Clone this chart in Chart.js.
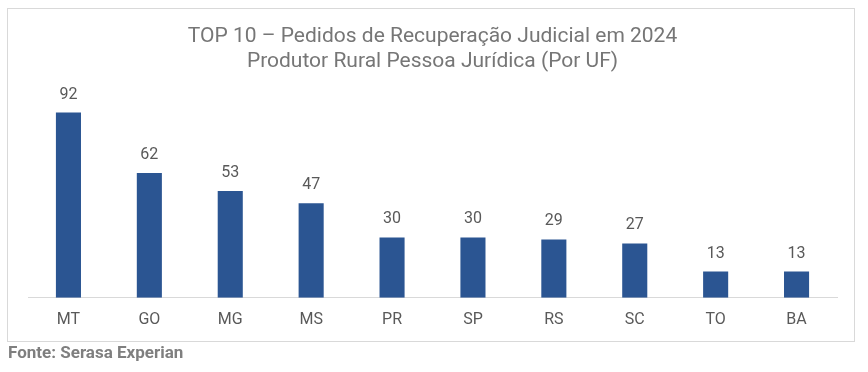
<!DOCTYPE html>
<html>
<head>
<meta charset="utf-8">
<script src="https://cdn.jsdelivr.net/npm/chart.js@4"></script>
<style>
  body { margin: 0; background: #fff; font-family: Roboto, sans-serif; }
  #frame { position: absolute; left: 7px; top: 8px; width: 846px; height: 332px; border: 1px solid #d9d9d9; }
  #wrap { position: absolute; left: 8px; top: 9px; width: 846px; height: 334px; }
  #fonte { position: absolute; left: 8px; top: 342px; font: bold 17px Roboto, sans-serif; color: #7f7f7f; }
</style>
</head>
<body>
<div id="frame"></div>
<div id="wrap"><canvas id="ufChart"></canvas></div>
<div id="fonte">Fonte: Serasa Experian</div>
<script>
// ── Data ─────────────────────────────────────────────────────────────────────
const titleLines = ['TOP 10 – Pedidos de Recuperação Judicial em 2024', 'Produtor Rural Pessoa Jurídica (Por UF)'];
const ufs = ['MT', 'GO', 'MG', 'MS', 'PR', 'SP', 'RS', 'SC', 'TO', 'BA'];
const pedidos = [92, 62, 53, 47, 30, 30, 29, 27, 13, 13];

// value labels above each bar
const barLabels = {
    id: 'barLabels',
    afterDatasetsDraw(chart) {
        const ctx = chart.ctx;
        const meta = chart.getDatasetMeta(0);
        ctx.save();
        ctx.font = '16px Roboto, sans-serif';
        ctx.fillStyle = '#595959';
        ctx.textAlign = 'center';
        ctx.textBaseline = 'middle';
        meta.data.forEach((bar, i) => {
            ctx.fillText(pedidos[i], bar.x, bar.y - 18);
        });
        ctx.restore();
    }
};

new Chart(document.getElementById('ufChart'), {
    type: 'bar',
    data: {
        labels: ufs,
        datasets: [{
            data: pedidos,
            backgroundColor: '#2b5592',
            categoryPercentage: 1,
            barPercentage: 0.31
        }]
    },
    options: {
        responsive: true,
        maintainAspectRatio: false,
        animation: false,
        layout: { padding: { left: 20, right: 17, top: 0, bottom: 0 } },
        plugins: {
            legend: { display: false },
            tooltip: { enabled: false },
            title: {
                display: true,
                text: titleLines,
                color: '#767676',
                font: { family: 'Roboto', size: 21, weight: 'normal', lineHeight: 1.2 },
                padding: { top: 15, bottom: 22 }
            }
        },
        scales: {
            x: {
                grid: { display: false, drawTicks: false },
                border: { display: true, color: '#d9d9d9' },
                ticks: { color: '#595959', font: { family: 'Roboto', size: 16 }, padding: 13 }
            },
            y: {
                display: false,
                min: 0,
                max: 100
            }
        }
    },
    plugins: [barLabels]
});
</script>
</body>
</html>
